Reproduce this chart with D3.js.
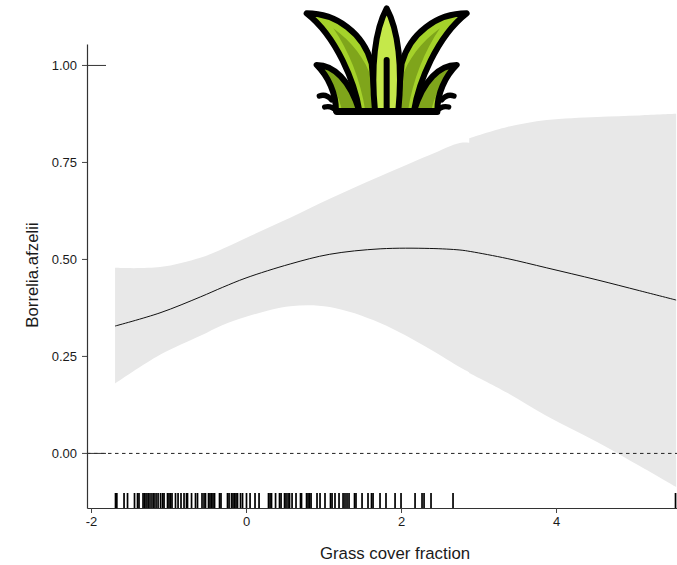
<!DOCTYPE html>
<html>
  <head>
    <meta charset="utf-8">
    <script src="https://d3js.org/d3.v7.min.js"></script>
    <style>
      html, body { margin: 0; padding: 0; background: #fff; }
      svg { display: block; }
      text { font-family: "Liberation Sans", Arial, sans-serif; fill: #1a1a1a; }
    </style>
  </head>

  <body>
    <script type="text/javascript">
      var fitX = [-1.69,-1.11,-0.59,-0.30,0,0.57,1.08,1.73,2.37,2.76,2.90,2.88,3.37,3.88,4.53,5.08,5.55];
      var fitMean = [0.327,0.361,0.402,0.427,0.451,0.487,0.512,0.526,0.527,0.523,0.519,0.519,0.501,0.477,0.446,0.418,0.394];
      var fitUpper = [0.477,0.479,0.503,0.526,0.554,0.606,0.655,0.713,0.768,0.799,0.799,0.811,0.840,0.858,0.866,0.870,0.874];
      var fitLower = [0.179,0.253,0.302,0.330,0.351,0.378,0.376,0.335,0.268,0.221,0.206,0.206,0.155,0.095,0.028,-0.034,-0.088];
      var rugX = [-1.684,-1.667,-1.574,-1.529,-1.439,-1.400,-1.381,-1.329,-1.310,-1.290,-1.265,-1.252,-1.226,-1.200,-1.187,-1.161,-1.135,-1.103,-1.077,-1.058,
        -1.013,-0.994,-0.974,-0.955,-0.910,-0.877,-0.839,-0.800,-0.768,-0.755,-0.703,-0.652,-0.626,-0.568,-0.542,-0.523,-0.484,-0.465,-0.445,-0.426,-0.406,
        -0.342,-0.323,-0.239,-0.219,-0.187,-0.168,-0.148,-0.129,-0.110,-0.071,-0.045,0.006,0.052,0.116,0.168,0.290,0.310,0.329,0.381,0.432,0.452,0.497,0.516,
        0.542,0.561,0.594,0.645,0.703,0.716,0.781,0.800,0.819,0.839,0.916,0.955,1.019,1.090,1.110,1.148,1.200,1.252,1.277,1.303,1.329,1.400,1.419,1.497,1.574,
        1.619,1.639,1.729,1.806,1.923,2.000,2.181,2.271,2.297,2.387,2.671,5.542];
      var xTicks = [-2,0,2,4];
      var yTicks = [0,0.25,0.5,0.75,1];

      var w = 677;
      var h = 565;

      var x = d3.scaleLinear().domain([-2.052,5.561]).range([87,677]);
      var y = d3.scaleLinear().domain([-0.142,1.054]).range([508,44]);

      var svg = d3.select("body").append("svg")
        .attr("width",w)
        .attr("height",h);

//ribbon and fitted line, the ribbon has a small step in its top edge so it is drawn in two overlapping parts
      var rows = fitX.map((d,i) => ({x:d, mean:fitMean[i], upper:fitUpper[i], lower:fitLower[i]}));
      var ribbon = d3.area().curve(d3.curveCatmullRom).x(d => x(d.x)).y0(d => y(d.lower)).y1(d => y(d.upper));

      [rows.slice(0,11),rows.slice(11)].forEach(function(part){
        svg.append("path").datum(part)
          .attr("fill","#e8e8e8")
          .attr("d",ribbon);
      });

      svg.append("path").datum(rows.filter((d,i) => i != 11))
        .attr("fill","none")
        .attr("stroke","#111")
        .attr("stroke-width",1)
        .attr("d",d3.line().curve(d3.curveCatmullRom).x(d => x(d.x)).y(d => y(d.mean)));

//reference lines
      svg.append("line")
        .attr("x1",x.range()[0]).attr("x2",x.range()[1])
        .attr("y1",y(0)+0.5).attr("y2",y(0)+0.5)
        .attr("stroke","#222")
        .attr("stroke-dasharray","3.5,3.5");

      [0,1].forEach(function(v){
        svg.append("line")
          .attr("x1",x.range()[0]).attr("x2",106)
          .attr("y1",y(v)+0.5).attr("y2",y(v)+0.5)
          .attr("stroke","#333");
      });

//rug
      svg.append("g").selectAll("line").data(rugX).enter().append("line")
        .attr("x1",d => x(d)).attr("x2",d => x(d))
        .attr("y1",493).attr("y2",508)
        .attr("stroke","#000")
        .attr("stroke-width",1.7);

//axes
      var yAxis = d3.axisLeft(y).tickValues(yTicks).tickFormat(d3.format(".2f")).tickSize(5).tickSizeOuter(0);
      var xAxis = d3.axisBottom(x).tickValues(xTicks).tickFormat(d3.format("d")).tickSize(5).tickSizeOuter(0);

      var gy = svg.append("g").attr("transform","translate(87,0)").call(yAxis);
      var gx = svg.append("g").attr("transform","translate(0,508)").call(xAxis);

      [gx,gy].forEach(function(g){
        g.selectAll("text").style("font-size","13px").style("font-family",null).attr("fill",null);
        g.selectAll("line").attr("stroke","#444");
        g.select(".domain").attr("stroke","#333").attr("stroke-width",1.2);
      });
      gx.selectAll("text").text(d => d < 0 ? "-" + Math.abs(d) : d).attr("y",9);
      gy.selectAll("text").attr("x",-10);

      svg.append("text")
        .attr("x",395).attr("y",559)
        .attr("text-anchor","middle")
        .style("font-size","16.8px")
        .text("Grass cover fraction");

      svg.append("text")
        .attr("transform","translate(38,275) rotate(-90)")
        .attr("text-anchor","middle")
        .style("font-size","16.8px")
        .text("Borrelia.afzelii");

//grass icon, drawn in a 3x box and mirrored for the right half
      var icon = svg.append("g").attr("transform","translate(300,0) scale(0.3333)")
        .attr("stroke-linejoin","round").attr("stroke-linecap","round");

      function halfIcon(g){
        g.append("path")
          .attr("d","M58,288 C72,283 85,288 95,300 M74,321 C85,318 98,320 110,333")
          .attr("fill","none").attr("stroke","#000").attr("stroke-width",16);
        // small leaf
        g.append("path")
          .attr("d","M50,195 C100,195 150,240 178,333 L108,333 C108,280 85,230 50,195 Z")
          .attr("fill","#7fa51b");
        g.append("path")
          .attr("d","M70,205 C95,250 118,290 126,333 L108,333 C108,280 90,240 70,205 Z")
          .attr("fill","#a5d22a");
        g.append("path")
          .attr("d","M50,195 C100,195 150,240 178,333 L108,333 C108,280 85,230 50,195 Z")
          .attr("fill","none").attr("stroke","#000").attr("stroke-width",18);
        // large leaf
        g.append("path")
          .attr("d","M20,40 C110,40 190,100 215,190 L228,333 L178,333 C165,250 110,110 20,40 Z")
          .attr("fill","#a5d22a");
        g.append("path")
          .attr("d","M100,85 C155,125 198,180 214,235 L226,333 L196,333 C182,240 145,150 100,85 Z")
          .attr("fill","#7fa51b");
        g.append("path")
          .attr("d","M20,40 C110,40 190,100 215,190 L228,333 L178,333 C165,250 110,110 20,40 Z")
          .attr("fill","none").attr("stroke","#000").attr("stroke-width",18);
      }
      halfIcon(icon.append("g"));
      halfIcon(icon.append("g").attr("transform","translate(520,0) scale(-1,1)"));

      icon.append("path")
        .attr("d","M225,333 C212,200 225,90 260,25 C295,90 308,200 295,333 Z")
        .attr("fill","#c5e84a").attr("stroke","#000").attr("stroke-width",18);
      icon.append("path")
        .attr("d","M260,180 L260,333 M110,336 L412,336")
        .attr("fill","none").attr("stroke","#000").attr("stroke-width",18);
    </script>
  </body>
</html>
